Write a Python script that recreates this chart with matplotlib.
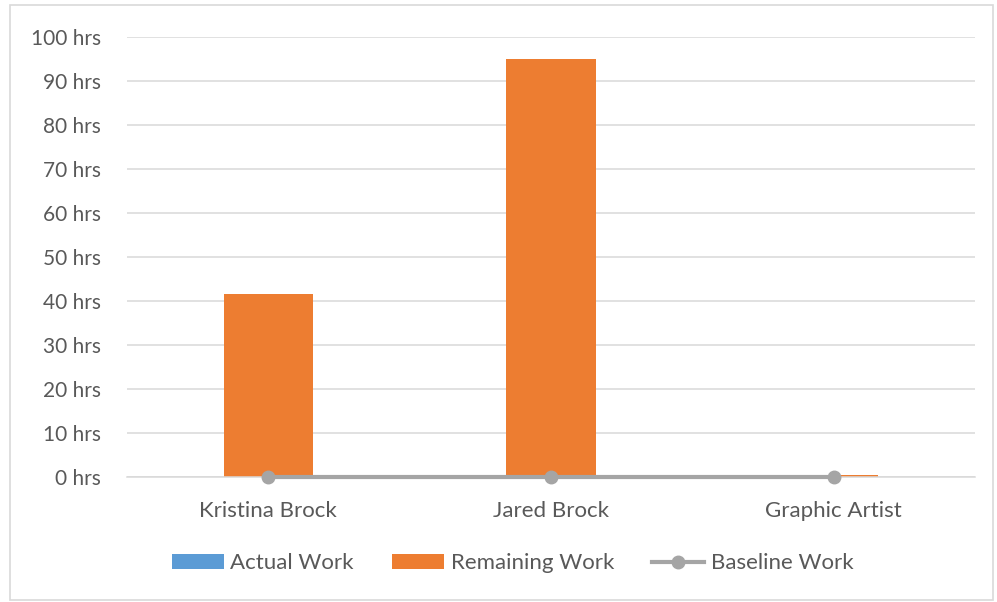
import numpy as np
import matplotlib.pyplot as plt
from matplotlib.patches import Rectangle

# data
names = ['Kristina Brock', 'Jared Brock', 'Graphic Artist']
actual_work = [0, 0, 0]
remaining_work = [41.6, 95.0, 0.4]
baseline_work = [0, 0, 0]
y_ticks = list(range(0, 101, 10))

text_col = '#595959'
plt.rcParams['font.family'] = ['Lato', 'DejaVu Sans']

fig = plt.figure(figsize=(9.97, 6.02), dpi=100)
ax = fig.add_axes([0.1274, 0.2076, 0.8506, 0.7309])

# outer border of the chart area
fig.patches.append(Rectangle((0.010, 0.004), 0.986, 0.988, transform=fig.transFigure,
                             fill=False, edgecolor='#d9d9d9', linewidth=1.2))

x = np.arange(len(names))
w = 0.316
b1 = ax.bar(x, actual_work, w, color='#5B9BD5', label='Actual Work', zorder=2)
b2 = ax.bar(x, remaining_work, w, bottom=actual_work, color='#ED7D31', label='Remaining Work', zorder=2)
ln, = ax.plot(x, baseline_work, color='#A5A5A5', lw=3, marker='o', ms=9,
              label='Baseline Work', zorder=3, clip_on=False)

ax.set_xlim(-0.5, 2.5)
ax.set_ylim(0, 100)
ax.set_yticks(y_ticks)
ax.set_yticklabels([f'{v} hrs' for v in y_ticks])
ax.set_xticks(x)
ax.set_xticklabels(names)
ax.grid(axis='y', color='#d9d9d9', lw=1.1, zorder=0)
ax.set_axisbelow(True)
for s in ['top', 'right', 'left']:
    ax.spines[s].set_visible(False)
ax.spines['bottom'].set_color('#d9d9d9')
ax.spines['bottom'].set_linewidth(1.1)
ax.tick_params(axis='y', length=0, labelsize=15, labelcolor=text_col, pad=19)
ax.tick_params(axis='x', length=0, labelsize=16, labelcolor=text_col, pad=17)

leg = fig.legend([b1, b2, ln], ['Actual Work', 'Remaining Work', 'Baseline Work'],
                 loc='center', bbox_to_anchor=(0.514, 0.064), ncol=3, frameon=False,
                 fontsize=16, handlelength=2.35, handletextpad=0.3, columnspacing=1.7)
for t in leg.get_texts():
    t.set_color(text_col)

fig.savefig('out.png', dpi=100)
